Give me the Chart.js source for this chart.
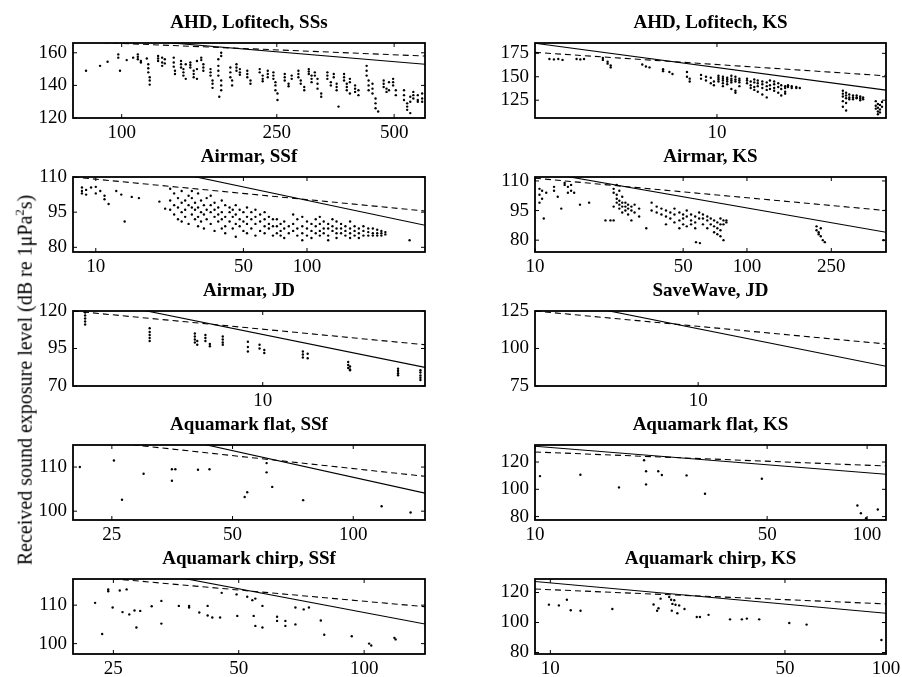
<!DOCTYPE html>
<html><head><meta charset="utf-8">
<script src="https://cdn.jsdelivr.net/npm/chart.js@4"></script>
<style>
html,body{margin:0;padding:0;background:#fff;width:902px;height:677px;overflow:hidden;position:relative;}
canvas{position:absolute;}
#ylab{position:absolute;left:24px;top:380px;transform:translate(-50%,-50%) rotate(-90deg);white-space:nowrap;font:20px "Liberation Serif","Times New Roman",serif;color:#000;z-index:5;}
#ylab sup{font-size:13px;}
</style></head><body>
<div id="ylab">Received sound exposure level (dB re 1μPa<sup>2</sup>s)</div>
<script>
// ---------- AHD, Lofitech, SSs ----------
const ahdSSsX = [100, 250, 500];
const ahdSSsY = [120, 140, 160];
const ahdSSsSolid = [[75, 171.1], [600, 153]];
const ahdSSsDashed = [[75, 167], [600, 158]];
const ahdSSsPts = [
 [81,149],[88,152],[92,154.5],[98,159,157],[99,149],[103,155.5],[107,157],[110,159,157.5,156],[112,155,154],
 [116,156.5],[117,153,150.5,148],[118,145,143,140.5],[124,158,156.5,155],[127,157,154,152],[129,156,153.5],
 [136,157,154,151.5],[137,149,147],[142,155,153,151],[144,150,148,146],[146,153,144],[150,154,152.5,151],
 [153,149,147,145],[156,155,150,144],[160,157,155.5],[162,153,151,149],[169,150,148,146],[171,143,141,138.5],
 [177,156,152,149,146],[180,160,158,143,140,137],[178,133],[190,151,148,145],[192,143,140],[197,153,151,149],
 [201,150,148,146.5],[210,149,147,145],[214,143,141],[226,150,148],[230,146,144,142.5],[237,149,147,145],
 [245,148,146,144],[248,142,140,137],[251,135,131],[262,147,145,143],[268,141,139.5],[273,146,144],
 [284,149,147,145],[288,143,141],[294,139,137],[302,150,148.5,147],[307,146,144,142],[313,148,146],
 [318,144,141,138],[325,135,133],[337,148,146,144],[344,142,140],[350,147,145],[356,141,139,137],[360,127],
 [372,147,145,143],[378,141,139,137],[385,144,142,135],[397,140,138,136],[405,137,134],[425,152,149,146],
 [430,143,140,137],[440,141,138,135],[448,132,129,126],[455,124],[470,143,141,139],[478,138,136],[485,142,137],
 [497,144,142,140],[505,137,134],[530,137,134,131],[540,129,127,125],[550,133,130,123],[560,136,134,132],
 [575,131,130,134],[590,135,132,130]
];
// ---------- AHD, Lofitech, KS ----------
const ahdKSX = [10];
const ahdKSY = [125, 150, 175];
const ahdKSSolid = [[3, 185.7], [30.6, 135.7]];
const ahdKSDashed = [[3, 176], [30.6, 151]];
const ahdKSPts = [
 [3.3,169],[3.4,168.5],[3.5,169],[3.6,168],[3.95,169],[4.05,168.5],[4.15,169],
 [4.7,170,168],[4.85,166,164],[4.95,162,160],[6.1,163],[6.25,161],[6.4,160],
 [7.0,158,156],[7.3,155],[7.45,153],[8.2,155,150],[8.35,148,145],
 [9.0,152,148],[9.3,150,146],[9.6,149,143],[9.8,145,141],
 [10.1,151,149,147,145],[10.4,150,148,146,143,140],[10.7,149,147,145,142],[11.0,151,148,146,144,137],
 [11.3,150,147,145,135,133],[11.6,148,146,144,140],
 [12.2,148,146,143],[12.5,145,141,138],[12.8,147,144,139,136],[13.1,146,143,140,134],[13.5,145,142,138,131],
 [13.9,144,140,136,128],[14.2,146,141,137],[14.6,145,142,138,135],[15.0,143,139,133],[15.3,141,137,130],
 [15.7,140,138,134,132],[16.0,141,139],[16.4,140,138],[16.9,139,138],[17.3,138],
 [23.0,135,132,129,124,118],[23.5,133,130,127,122,114],[24.0,131,128,126],[24.6,130,128,126],
 [25.2,130,128,127],[25.8,129,127,125],[26.3,128,126],
 [28.6,124,119,116],[29.0,121,117,113,110],[29.4,120,115,112],[29.8,123,118]
];
// ---------- Airmar, SSf ----------
const airSSfX = [10, 50, 100];
const airSSfY = [80, 95, 110];
const airSSfSolid = [[7.8, 121.1], [362, 89.4]];
const airSSfDashed = [[7.8, 110], [362, 95.5]];
const airSSfPts = [
 [8.6,105.5,104,103],[9.0,104.5,102.5],[9.5,105.5],[10.0,105.8,103],[10.5,104],[11.0,102,100.5],[11.5,98.5],
 [12.5,104],[13.2,102.5],[13.7,91],[14.8,101.5],[16.0,101],[20.0,99.5],[21.3,96.5],
 [22.5,105,100,96],[23.5,103,98,94],[24.5,101,97,92],[25.5,104,99,95,91],[26.5,100,96,93],[27.5,102,98,90],
 [28.5,104,101,97,94],[29.5,99,96,92],[30.5,103,97,93,89],[31.5,100,95,91],[32.5,98,94,88],[33.5,101,96,92],
 [35,102,98,95,90],[36.5,99,96,93,87],[38,97,94,91],[39.5,100,95,92,88],[41,98,93,89,86],
 [43,97,95,91],[44.5,96,93,88],[46,98,94,90,84.5],[48,96,92,89],[50,95,91,87],
 [52,97,93,90,86],[54.5,95,92,88],[57,96,93,90,85],[60,94,91,87],[63,95,92,89,86],[66,93,90,88],[69,92,89,85],
 [72,92,89,86],[75,90,87,85],[78,91,88,84],[82,89,86],[86,94,90,87],
 [90,92,88,85],[95,93,89,86,83],[100,91,88,85],[105,90,87,84],[110,92,89,86],
 [115,93,90,87,85],[120,91,88,86],[126,90,88,85,83],[132,92,89,87],[138,91,88,86,84],
 [145,90,88,86],[152,89,87,85],[160,91,88,86,84],[168,89,87,85],[176,88,86,84],
 [185,89,87,85],[195,88,86.5,85],[205,88,86,85],[215,87.5,86,85],[225,87,86,85],[235,86.5,85.5],[306,83]
];
// ---------- Airmar, KS ----------
const airKSX = [10, 50, 100, 250];
const airKSY = [80, 95, 110];
const airKSSolid = [[10, 115.1], [453, 84]];
const airKSDashed = [[10, 111.4], [453, 95]];
const airKSPts = [
 [10.5,106,103,99],[10.8,105,101],[11.0,91],[11.3,104],[12.3,107,105],[12.8,102],[13.3,96],[13.8,109,108],
 [14.3,107,104],[14.8,108,105],[15.3,104],[16.3,98],[18.0,99],[21.5,90],[22.7,90],
 [23.5,106,104,97,90],[24.3,108,103,101,99],[25.0,105,100,98,96],[25.8,102,99,97,94],[26.7,99,97,95],
 [27.5,98,96,93],[28.5,97,95,90],[29.5,98,94],[31.0,96,92],[33.5,86],
 [35.5,99,95],[37.5,97,94],[39.5,96,93],[41.5,95,92,88],[43.5,94,91],[45.5,96,93,89],[48,94,90,86],[50,93,91,88],
 [52,95,92,87],[54.5,93,90,88],[57,92,89,86],[59.5,94,91],[62,93,91,88],[65,92,90,86],[67.5,91,88],
 [70,90,87,84],[72.5,89,86,83],[75,91,88,85,82],[77.5,90,88,80],[80,90,89],[57.5,79],[60,78.5],
 [213,87,85],[218,84,83],[223,86,82],[228,80],[233,79],[441,80]
];
// ---------- Airmar, JD ----------
const airJDX = [10];
const airJDY = [70, 95, 120];
const airJDSolid = [[3, 130], [28, 82.4]];
const airJDDashed = [[3, 120], [28, 97.5]];
const airJDPts = [
 [3.24,119,117,115,113,111],[4.88,108.5,106,104,102,100],[6.5,105,103,101,99],[6.6,100,97.5],
 [6.95,104,102,100],[7.15,98,96.5],[7.76,103,101,99,97.5],[9.1,99.5,96,93],[9.8,97.5,95],[10.1,94,92],
 [12.9,93,91,89],[13.3,91.5,88.5],[17.2,86,84,82],[17.4,83,81,80.5],[23.6,81.5,80,78.5,77.2],
 [27.2,80.5,79,77,75.5,74]
];
// ---------- SaveWave, JD ----------
const swJDX = [10];
const swJDY = [75, 100, 125];
const swJDSolid = [[3, 134.9], [40, 88.2]];
const swJDDashed = [[3, 125], [40, 103]];
const swJDPts = [];
// ---------- Aquamark flat, SSf ----------
const aqfSSfX = [25, 50, 100];
const aqfSSfY = [100, 110];
const aqfSSfSolid = [[20, 121.7], [151, 104.1]];
const aqfSSfDashed = [[20, 116.5], [151, 107.9]];
const aqfSSfPts = [
 [20.8,110],[25.3,111.5],[26.5,102.6],[30.0,108.5],[35.3,109.5],[36.0,109.5],[35.3,106.9],[41.0,109.4],
 [43.8,109.5],[53.6,103.2],[54.4,104.3],[60.8,110.9],[60.8,108.8],[62.8,105.5],[75.0,102.5],[117.7,101.1],[139,99.7]
];
// ---------- Aquamark flat, KS ----------
const aqfKSX = [10, 50, 100];
const aqfKSY = [80, 100, 120];
const aqfKSSolid = [[10, 131.6], [114, 111]];
const aqfKSDashed = [[10, 127.4], [114, 117.1]];
const aqfKSPts = [
 [10.35,109.7],[13.7,110.7],[17.9,101.4],[21.3,121.3],[21.6,113.2],[21.6,103.6],[23.5,113.2],[24.1,110.5],
 [28.6,110.2],[32.5,96.7],[48.2,107.8],[93.5,88.1],[95.8,82.5],[99.3,78.8],[107.7,85.2]
];
// ---------- Aquamark chirp, SSf ----------
const aqcSSfX = [25, 50, 100];
const aqcSSfY = [100, 110];
const aqcSSfSolid = [[20, 122.4], [140, 105.1]];
const aqcSSfDashed = [[20, 117.8], [140, 109.6]];
const aqcSSfPts = [
 [22.6,110.6],[23.5,102.5],[24.3,114.1,113.6],[24.9,109.4],[25.9,113.8],[26.3,108.2],[26.9,114.1],[27.3,107.6],
 [28.1,108.6],[28.4,104.2],[29.0,108.5],[30.9,109.7],[32.6,111.1,105.2],[35.9,109.8],[38,109.8,109.4],
 [40.2,108.1],[42.1,109.8,107.3],[43.2,106.8],[45.1,106.8],[45.5,113.2],[49.4,112.8],[49.6,107.2],[52.4,112.2],
 [53.9,111.3],[54.8,111.7,104.6],[54.3,107.2],[57,104.2,109.8],[61.8,107,105.9],[64.7,105.9,104.6],
 [68.4,105,109.4],[71.6,108.9],[73.7,109.4],[78.7,106],[80.2,102.3],[93.4,101.9],[102.8,100],[104,99.5],
 [118.2,101.5],[119,101.1]
];
// ---------- Aquamark chirp, KS ----------
const aqcKSX = [10, 50, 100];
const aqcKSY = [80, 100, 120];
const aqcKSSolid = [[9, 127.3], [100, 106.2]];
const aqcKSDashed = [[9, 122.3], [100, 112.4]];
const aqcKSPts = [
 [9.9,111.9],[10.6,111.4],[11.2,115.2],[11.5,108.2],[12.3,107.8],[15.3,109],[20.3,112],[20.8,107.8],[21,109.5],
 [21.3,115.9],[22.6,117],[22.9,115.2],[23.1,112.4],[23.4,114.8],[23.6,111.8],[23.9,106.2],[24.2,111.4],
 [25.1,109],[23,107.9],[27.3,103.7],[27.9,103.7],[29.6,105.1],[34.3,102.1],[37.2,102.1],[38.5,102.6],
 [41.9,102.1],[51.5,99.7],[58,98.6],[96.9,88.3]
];

const titles = ['AHD, Lofitech, SSs','AHD, Lofitech, KS','Airmar, SSf','Airmar, KS','Airmar, JD','SaveWave, JD',
  'Aquamark flat, SSf','Aquamark flat, KS','Aquamark chirp, SSf','Aquamark chirp, KS'];

// layout (pixels)
const colL = [73, 535], colW = [352, 351];
const rowT = [43, 177, 311, 445, 579];
const PH = 75;

const panels = [
 {t:0, c:0, r:0, xr:[75,600],   yr:[120,166],   xt:ahdSSsX, yt:ahdSSsY, pts:ahdSSsPts, s:ahdSSsSolid, d:ahdSSsDashed},
 {t:1, c:1, r:0, xr:[3,30.6],   yr:[106,186],   xt:ahdKSX,  yt:ahdKSY,  pts:ahdKSPts,  s:ahdKSSolid,  d:ahdKSDashed},
 {t:2, c:0, r:1, xr:[7.8,362],  yr:[78,110],    xt:airSSfX, yt:airSSfY, pts:airSSfPts, s:airSSfSolid, d:airSSfDashed},
 {t:3, c:1, r:1, xr:[10,453],   yr:[74,112],    xt:airKSX,  yt:airKSY,  pts:airKSPts,  s:airKSSolid,  d:airKSDashed},
 {t:4, c:0, r:2, xr:[3,28],     yr:[70,120],    xt:airJDX,  yt:airJDY,  pts:airJDPts,  s:airJDSolid,  d:airJDDashed},
 {t:5, c:1, r:2, xr:[3,40],     yr:[75,125],    xt:swJDX,   yt:swJDY,   pts:swJDPts,   s:swJDSolid,   d:swJDDashed},
 {t:6, c:0, r:3, xr:[20,151],   yr:[98,115],    xt:aqfSSfX, yt:aqfSSfY, pts:aqfSSfPts, s:aqfSSfSolid, d:aqfSSfDashed},
 {t:7, c:1, r:3, xr:[10,114],   yr:[77.5,132.5],xt:aqfKSX,  yt:aqfKSY,  pts:aqfKSPts,  s:aqfKSSolid,  d:aqfKSDashed},
 {t:8, c:0, r:4, xr:[20,140],   yr:[97.3,116.8],xt:aqcSSfX, yt:aqcSSfY, pts:aqcSSfPts, s:aqcSSfSolid, d:aqcSSfDashed},
 {t:9, c:1, r:4, xr:[9,100],    yr:[79,129],    xt:aqcKSX,  yt:aqcKSY,  pts:aqcKSPts,  s:aqcKSSolid,  d:aqcKSDashed}
];

const FONT = '"Liberation Serif", "Times New Roman", serif';
function expand(cl){const o=[];cl.forEach(c=>{for(let i=1;i<c.length;i++)o.push({x:c[0],y:c[i]});});return o;}
function toXY(a){return a.map(p=>({x:p[0],y:p[1]}));}

const frame = {
  id:'frame',
  afterDatasetsDraw(chart, args, opts){
    const ctx = chart.ctx, a = chart.chartArea, x = chart.scales.x, y = chart.scales.y;
    ctx.save();
    ctx.strokeStyle = '#000'; ctx.lineWidth = 1;
    const L = 4;
    ctx.beginPath();
    opts.xt.forEach(v => { const px = x.getPixelForValue(v);
      ctx.moveTo(px, a.bottom); ctx.lineTo(px, a.bottom - L);
      ctx.moveTo(px, a.top); ctx.lineTo(px, a.top + L); });
    opts.yt.forEach(v => { const py = y.getPixelForValue(v);
      ctx.moveTo(a.left, py); ctx.lineTo(a.left + L, py);
      ctx.moveTo(a.right, py); ctx.lineTo(a.right - L, py); });
    ctx.stroke();
    ctx.lineWidth = 1.8;
    ctx.strokeRect(a.left, a.top, a.right - a.left, a.bottom - a.top);
    ctx.restore();
  }
};

const AXW = 62, TB = 31, XH = 30, PR = 20;
panels.forEach(p => {
  const L = colL[p.c], W = colW[p.c], T = rowT[p.r];
  const cv = document.createElement('canvas');
  cv.width = AXW + W + PR; cv.height = TB + PH + XH;
  cv.style.left = (L - AXW) + 'px'; cv.style.top = (T - TB) + 'px';
  document.body.appendChild(cv);
  new Chart(cv, {
    type: 'scatter',
    data: { datasets: [
      { data: expand(p.pts), pointRadius: 1.2, pointBackgroundColor: '#000', pointBorderWidth: 0, showLine: false },
      { data: toXY(p.s), showLine: true, borderColor: '#000', borderWidth: 1.1, pointRadius: 0, fill: false },
      { data: toXY(p.d), showLine: true, borderColor: '#000', borderWidth: 1.1, borderDash: [6, 4], pointRadius: 0, fill: false }
    ]},
    options: {
      responsive: false, animation: false, devicePixelRatio: 1, events: [],
      layout: { padding: { left: 0, right: PR, top: 0, bottom: 0 } },
      plugins: {
        legend: { display: false }, tooltip: { enabled: false },
        title: { display: true, fullSize: false, text: titles[p.t], color: '#000',
                 font: { family: FONT, size: 19, weight: 'bold' }, padding: { top: 0, bottom: TB - 22.8 } },
        frame: { xt: p.xt, yt: p.yt }
      },
      scales: {
        x: { type: 'logarithmic', min: p.xr[0], max: p.xr[1],
             grid: { display: false, drawTicks: false }, border: { display: false },
             afterBuildTicks: s => { s.ticks = p.xt.map(v => ({ value: v })); },
             afterFit: s => { s.height = XH; },
             ticks: { autoSkip: false, maxRotation: 0, minRotation: 0, padding: 4, color: '#000',
                      font: { family: FONT, size: 19 }, callback: v => String(v) } },
        y: { type: 'linear', min: p.yr[0], max: p.yr[1],
             grid: { display: false, drawTicks: false }, border: { display: false },
             afterBuildTicks: s => { s.ticks = p.yt.map(v => ({ value: v })); },
             afterFit: s => { s.width = AXW; },
             ticks: { autoSkip: false, padding: 6, color: '#000',
                      font: { family: FONT, size: 19 }, callback: v => String(v) } }
      }
    },
    plugins: [frame]
  });
});
</script>
</body></html>
